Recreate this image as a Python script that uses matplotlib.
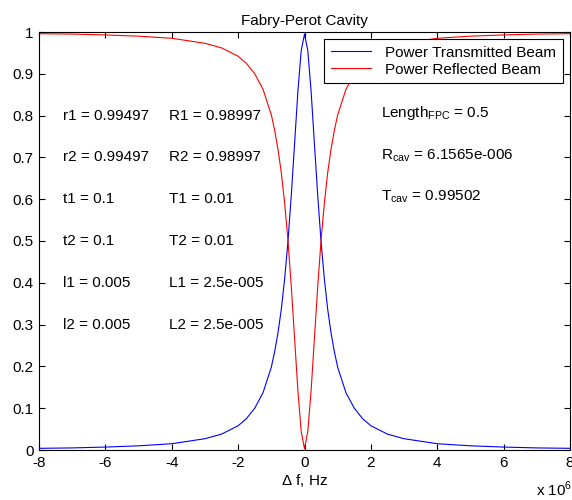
import matplotlib

matplotlib.use("Agg")
import matplotlib.pyplot as plt

# frequency detuning in Hz
delta_f = [
    -8e6, -7e6, -6e6, -5e6, -4e6, -3e6, -2.5e6, -2e6, -1.75e6, -1.5e6,
    -1.25e6, -1e6, -0.9e6, -0.8e6, -0.7e6, -0.6e6, -0.5e6, -0.4e6,
    -0.3e6, -0.2e6, -0.1e6, 0.0,
    0.1e6, 0.2e6, 0.3e6, 0.4e6, 0.5e6, 0.6e6, 0.7e6, 0.8e6, 0.9e6, 1e6,
    1.25e6, 1.5e6, 1.75e6, 2e6, 2.5e6, 3e6, 4e6, 5e6, 6e6, 7e6, 8e6,
]
power_transmitted = [
    0.004, 0.005, 0.007, 0.010, 0.015, 0.027, 0.038, 0.058, 0.075, 0.100,
    0.137, 0.198, 0.235, 0.280, 0.336, 0.408, 0.497, 0.607,
    0.731, 0.857, 0.955, 0.995,
    0.955, 0.857, 0.731, 0.607, 0.497, 0.408, 0.336, 0.280, 0.235, 0.198,
    0.137, 0.100, 0.075, 0.058, 0.038, 0.027, 0.015, 0.010, 0.007, 0.005,
    0.004,
]
power_reflected = [
    0.996, 0.995, 0.993, 0.990, 0.985, 0.973, 0.962, 0.942, 0.925, 0.900,
    0.863, 0.802, 0.765, 0.720, 0.664, 0.592, 0.503, 0.393,
    0.269, 0.143, 0.045, 0.003,
    0.045, 0.143, 0.269, 0.393, 0.503, 0.592, 0.664, 0.720, 0.765, 0.802,
    0.863, 0.900, 0.925, 0.942, 0.962, 0.973, 0.985, 0.990, 0.993, 0.995,
    0.996,
]

left_labels = ["r1 = 0.99497", "r2 = 0.99497", "t1 = 0.1", "t2 = 0.1",
               "l1 = 0.005", "l2 = 0.005"]
mid_labels = ["R1 = 0.98997", "R2 = 0.98997", "T1 = 0.01", "T2 = 0.01",
              "L1 = 2.5e-005", "L2 = 2.5e-005"]
row_y = [0.8, 0.7, 0.6, 0.5, 0.4, 0.3]
cavity_labels = [r"Length$_{\mathrm{FPC}}$ = 0.5",
                 r"R$_{\mathrm{cav}}$ = 6.1565e-006",
                 r"T$_{\mathrm{cav}}$ = 0.99502"]
cavity_y = [0.806, 0.703, 0.607]

plt.rcParams["font.family"] = ["Liberation Sans", "DejaVu Sans"]
plt.rcParams["mathtext.fontset"] = "custom"
plt.rcParams["mathtext.rm"] = "Liberation Sans"
plt.rcParams["axes.unicode_minus"] = False
plt.rcParams["font.size"] = 11

fig = plt.figure(figsize=(5.72, 5.0), dpi=100)
ax = fig.add_axes([39 / 572, 50 / 500, 531 / 572, 418 / 500])

x_mhz = [f / 1e6 for f in delta_f]
ax.plot(x_mhz, power_transmitted, color="#0000ff", linewidth=0.8,
        label="Power Transmitted Beam")
ax.plot(x_mhz, power_reflected, color="#ff0000", linewidth=0.8,
        label="Power Reflected Beam")

ax.set_xlim(-8, 8)
ax.set_ylim(0, 1)
ax.set_xticks(range(-8, 9, 2))
ax.set_yticks([i / 10 for i in range(11)])
ax.set_yticklabels(["0", "0.1", "0.2", "0.3", "0.4", "0.5", "0.6", "0.7",
                    "0.8", "0.9", "1"])
ax.tick_params(direction="in", top=True, right=True, length=4, width=0.8,
               labelsize=11, pad=4)
for spine in ax.spines.values():
    spine.set_linewidth(0.8)

ax.set_title("Fabry-Perot Cavity", fontsize=11, pad=5)
ax.set_xlabel(r"$\Delta$ f, Hz", fontsize=11, labelpad=2)
ax.text(1.005, -0.095, r"x 10$^6$", transform=ax.transAxes, ha="right",
        va="center", fontsize=11)

for lab, y in zip(left_labels, row_y):
    ax.text(-7.28, y, lab, va="center", ha="left", fontsize=11)
for lab, y in zip(mid_labels, row_y):
    ax.text(-4.07, y, lab, va="center", ha="left", fontsize=11)
for lab, y in zip(cavity_labels, cavity_y):
    ax.text(2.32, y, lab, va="center", ha="left", fontsize=11)

leg = ax.legend(loc="upper right", bbox_to_anchor=(0.986, 0.984),
                fancybox=False, edgecolor="black", framealpha=1,
                borderaxespad=0, handlelength=2.6, handletextpad=0.9,
                borderpad=0.45, labelspacing=0.2, fontsize=11)
leg.get_frame().set_linewidth(0.8)

fig.savefig("out.png", dpi=100)
plt.close(fig)
